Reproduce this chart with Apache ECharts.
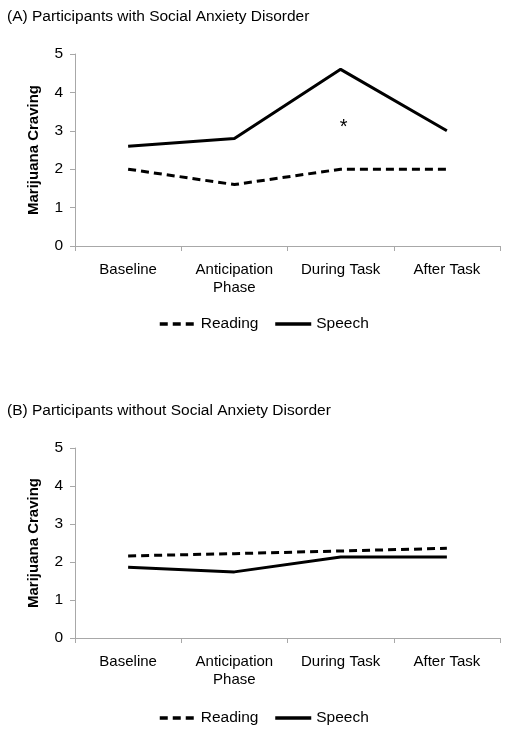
<!DOCTYPE html>
<html>
<head>
<meta charset="utf-8">
<script src="https://cdn.jsdelivr.net/npm/echarts@6/dist/echarts.min.js"></script>
<style>
  html, body { margin: 0; padding: 0; background: #fff; }
  #chart { width: 513px; height: 737px; }
</style>
</head>
<body>
<div id="chart"></div>
<script>
// ---- Data ----
const categories = ['Baseline', 'Anticipation\nPhase', 'During Task', 'After Task'];
const titleA = '(A) Participants with Social Anxiety Disorder';
const titleB = '(B) Participants without Social Anxiety Disorder';
const yAxisName = 'Marijuana Craving';
const readingA = [2.0, 1.6, 2.0, 2.0];
const speechA  = [2.6, 2.8, 4.6, 3.0];
const readingB = [2.16, 2.22, 2.29, 2.36];
const speechB  = [1.86, 1.74, 2.13, 2.13];
const asteriskA = { category: 'During Task', value: 3.2, text: '*' };
const yMin = 0, yMax = 5, yStep = 1;

// ---- Chart ----
const FONT = "'Liberation Sans', Arial, sans-serif";
const AXIS_COLOR = '#a8a8a8';
const chart = echarts.init(document.getElementById('chart'), null, { renderer: 'canvas' });

function xAxisCfg(gridIndex) {
  return {
    type: 'category', gridIndex: gridIndex, data: categories, boundaryGap: true,
    axisLine: { show: true, lineStyle: { color: AXIS_COLOR, width: 1 } },
    axisTick: { show: true, length: 5, interval: 0, lineStyle: { color: AXIS_COLOR } },
    axisLabel: { interval: 0, color: '#000', fontSize: 15, fontFamily: FONT, margin: 15, lineHeight: 18 },
    splitLine: { show: false }
  };
}
function yAxisCfg(gridIndex) {
  return {
    type: 'value', gridIndex: gridIndex, min: yMin, max: yMax, interval: yStep,
    name: yAxisName, nameLocation: 'middle', nameGap: 34,
    nameTextStyle: { fontSize: 15, fontWeight: 'bold', fontFamily: FONT, color: '#000' },
    axisLine: { show: true, lineStyle: { color: AXIS_COLOR, width: 1 } },
    axisTick: { show: true, length: 5, lineStyle: { color: AXIS_COLOR } },
    axisLabel: { color: '#000', fontSize: 15.5, fontFamily: FONT, margin: 12 },
    splitLine: { show: false }
  };
}
function lineSeries(name, data, idx, dashed, extra) {
  return Object.assign({
    name: name, type: 'line', xAxisIndex: idx, yAxisIndex: idx, data: data,
    symbol: 'none', showSymbol: false, smooth: false, animation: false,
    lineStyle: { color: '#000', width: 3, type: dashed ? [8, 5] : 'solid' },
    itemStyle: { color: '#000' }
  }, extra || {});
}
function legendCfg(top) {
  return {
    top: top, left: 153, orient: 'horizontal',
    itemWidth: 36, itemHeight: 14, itemGap: 15,
    data: ['Reading', 'Speech'],
    itemStyle: { opacity: 0, borderWidth: 0 },
    lineStyle: { width: 3.5 },
    textStyle: { fontSize: 15.5, fontFamily: FONT, color: '#000' }
  };
}

const option = {
  backgroundColor: '#fff',
  animation: false,
  title: [
    { text: titleA, left: 2, top: 4, textStyle: { fontSize: 15.5, fontWeight: 'normal', fontFamily: FONT, color: '#000' } },
    { text: titleB, left: 2, top: 398, textStyle: { fontSize: 15.5, fontWeight: 'normal', fontFamily: FONT, color: '#000' } }
  ],
  legend: [legendCfg(311), legendCfg(705)],
  grid: [
    { left: 75, width: 425, top: 54, height: 192, containLabel: false },
    { left: 75, width: 425, top: 448, height: 190, containLabel: false }
  ],
  xAxis: [xAxisCfg(0), xAxisCfg(1)],
  yAxis: [yAxisCfg(0), yAxisCfg(1)],
  series: [
    lineSeries('Reading', readingA, 0, true),
    lineSeries('Speech', speechA, 0, false, {
      markPoint: {
        symbol: 'circle', symbolSize: 1,
        itemStyle: { color: 'rgba(0,0,0,0)' },
        label: { show: true, position: 'inside', formatter: asteriskA.text, fontSize: 20, fontFamily: FONT, color: '#000', offset: [3, 4] },
        data: [{ coord: [asteriskA.category, asteriskA.value] }]
      }
    }),
    lineSeries('Reading', readingB, 1, true),
    lineSeries('Speech', speechB, 1, false)
  ]
};
chart.setOption(option);
</script>
</body>
</html>
